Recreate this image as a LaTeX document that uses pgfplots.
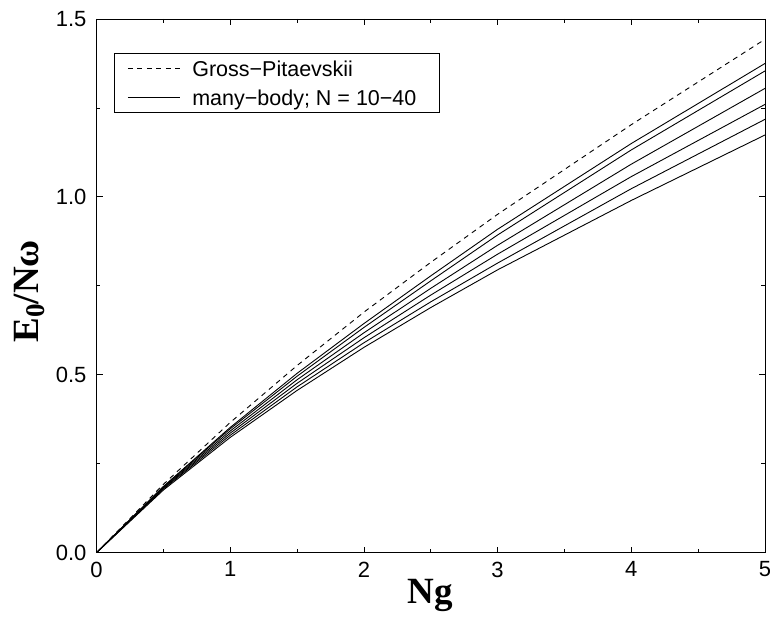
\documentclass[border=0pt]{standalone}
\usepackage{fontspec}
\setmainfont{Liberation Sans}
\newfontfamily\labelfont{Liberation Serif}
\usepackage{pgfplots}
\pgfplotsset{compat=1.18}

\begin{document}
\begin{tikzpicture}
\useasboundingbox (-96.5bp,-65.3bp) rectangle (673.5bp,552.7bp);
\begin{axis}[
    at={(0,0)}, anchor=south west,
    scale only axis,
    width=668.5bp, height=533.7bp,
    xmin=0, xmax=5, ymin=0, ymax=1.5,
    xtick={0,1,2,3,4,5},
    ytick={0,0.5,1,1.5},
    minor x tick num=1,
    minor y tick num=1,
    major tick length=6bp,
    minor tick length=4bp,
    tick style={black, line width=0.8bp},
    axis line style={line width=0.9bp},
    /pgf/number format/assume math mode=true,
    yticklabel style={/pgf/number format/fixed, /pgf/number format/fixed zerofill,
        /pgf/number format/precision=1, xshift=-6.5bp},
    ticklabel style={font=\fontsize{22bp}{26bp}\selectfont},
    xticklabel style={yshift=-5.5bp},
    xlabel={\labelfont\bfseries Ng},
    ylabel={\labelfont\bfseries E\raisebox{-0.32ex}{\fontsize{27bp}{27bp}\selectfont 0}/N\char"03C9},
    label style={font=\fontsize{37bp}{40bp}\selectfont},
    xlabel style={at={(axis description cs:0.499,-0.0943)}, anchor=base},
    ylabel style={at={(axis description cs:-0.1003,0.49)}, anchor=center},
    legend style={at={(axis description cs:0.0262,0.9363)}, anchor=north west,
        draw=black, line width=0.8bp, font=\fontsize{21.5bp}{24bp}\selectfont,
        inner xsep=13bp, inner ysep=6bp, row sep=11bp, column sep=12bp,
        nodes={inner sep=0bp, text height=17bp, text depth=1bp}},
    legend cell align=left,
    legend image code/.code={\draw[#1] (0bp,0bp) -- (52bp,0bp);},
    every axis plot/.append style={line width=0.9bp, black},
]
% Gross-Pitaevskii
\addplot[dash pattern=on 5bp off 4.5bp] coordinates {
    (0,0) (0.5,0.192) (1,0.366) (1.5,0.526) (2,0.676) (2.5,0.816) (3,0.951) (4,1.203) (5,1.443)
};
\addlegendentry{Gross\char"2212Pitaevskii}
% many-body, N = 10-40
\addplot[solid] coordinates {
    (0,0) (0.5,0.186) (1,0.352) (1.5,0.504) (2,0.644) (2.5,0.778) (3,0.909) (4,1.150) (5,1.375)
};
\addlegendentry{many\char"2212body; N = 10\char"2212 40\kern10bp\null}
\addplot[forget plot] coordinates {
    (0,0) (0.5,0.185) (1,0.348) (1.5,0.496) (2,0.633) (2.5,0.764) (3,0.893) (4,1.132) (5,1.354)
};
\addplot[forget plot] coordinates {
    (0,0) (0.5,0.183) (1,0.342) (1.5,0.486) (2,0.618) (2.5,0.743) (3,0.864) (4,1.092) (5,1.305)
};
\addplot[forget plot] coordinates {
    (0,0) (0.5,0.181) (1,0.336) (1.5,0.476) (2,0.604) (2.5,0.724) (3,0.839) (4,1.057) (5,1.260)
};
\addplot[forget plot] coordinates {
    (0,0) (0.5,0.179) (1,0.330) (1.5,0.466) (2,0.590) (2.5,0.705) (3,0.814) (4,1.023) (5,1.218)
};
\addplot[forget plot] coordinates {
    (0,0) (0.5,0.176) (1,0.324) (1.5,0.456) (2,0.577) (2.5,0.689) (3,0.795) (4,0.990) (5,1.174)
};
\end{axis}
\end{tikzpicture}
\end{document}
